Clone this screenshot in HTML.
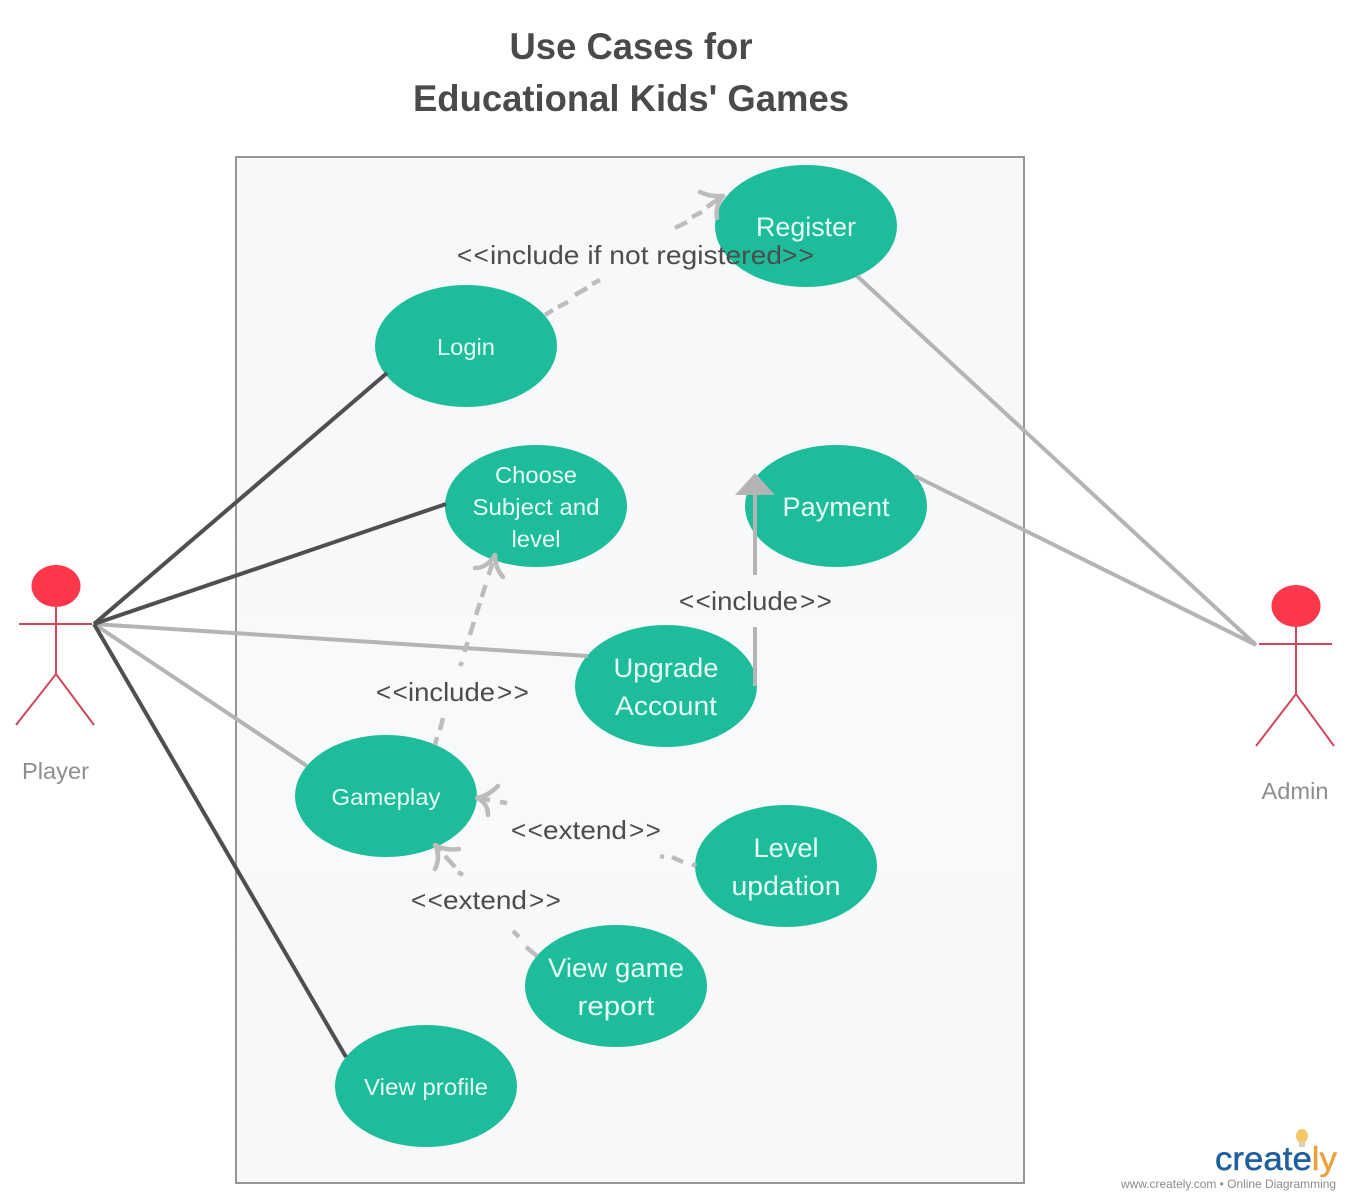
<!DOCTYPE html>
<html>
<head>
<meta charset="utf-8">
<style>
html,body{margin:0;padding:0;background:#fff;width:1350px;height:1200px;overflow:hidden}
svg{display:block}
text{font-family:"Liberation Sans",sans-serif}
.t{font-weight:bold;font-size:37px;fill:#4a4a4a;text-anchor:middle}
.w{fill:#e6fbf5;text-anchor:middle}
.l{fill:#4c4c4c;font-size:26px}
.s{letter-spacing:1.500px}
.a{fill:#8e8e8e;font-size:23px;text-anchor:middle}
.e{fill:#1dbc9a}
.d{stroke:#bcbcbc;stroke-width:4.500;fill:none}
.h{stroke:#bcbcbc;stroke-width:4.500;fill:none;stroke-linecap:round;stroke-linejoin:round}
</style>
</head>
<body>
<svg width="1350" height="1200" viewBox="0 0 1350 1200" xmlns="http://www.w3.org/2000/svg">
<defs>
<linearGradient id="bg" x1="0" y1="0" x2="0" y2="1">
<stop offset="0" stop-color="#f7f8f9"/>
<stop offset="0.6" stop-color="#f8f9fa"/>
<stop offset="1" stop-color="#f8f8f8"/>
</linearGradient>
</defs>
<rect width="1350" height="1200" fill="#fff"/>
<text class="t" x="631" y="59" textLength="243" lengthAdjust="spacingAndGlyphs">Use Cases for</text>
<text class="t" x="631" y="111" textLength="436" lengthAdjust="spacingAndGlyphs">Educational Kids' Games</text>

<rect x="236" y="157" width="788" height="1026" fill="url(#bg)" stroke="#969696" stroke-width="2"/>

<!-- Ellipses -->
<ellipse class="e" cx="806" cy="226" rx="91" ry="61"/>
<ellipse class="e" cx="466" cy="346" rx="91" ry="61"/>
<ellipse class="e" cx="536" cy="506" rx="91" ry="61"/>
<ellipse class="e" cx="836" cy="506" rx="91" ry="61"/>
<ellipse class="e" cx="666" cy="686" rx="91" ry="61"/>
<ellipse class="e" cx="386" cy="796" rx="91" ry="61"/>
<ellipse class="e" cx="786" cy="866" rx="91" ry="61"/>
<ellipse class="e" cx="616" cy="986" rx="91" ry="61"/>
<ellipse class="e" cx="426" cy="1086" rx="91" ry="61"/>

<!-- Actor connectors -->
<g fill="none" stroke-width="4">
<line x1="94" y1="624" x2="588" y2="656" stroke="#b4b4b4"/>
<line x1="94" y1="624" x2="307" y2="766" stroke="#b4b4b4"/>
<line x1="94" y1="624" x2="387" y2="373" stroke="#4f4f4f"/>
<line x1="94" y1="624" x2="446" y2="504" stroke="#4f4f4f"/>
<line x1="94" y1="624" x2="346" y2="1057" stroke="#4f4f4f"/>
<line x1="857" y1="276" x2="1256" y2="645" stroke="#b4b4b4"/>
<line x1="915" y1="476" x2="1256" y2="645" stroke="#b4b4b4"/>
</g>

<!-- Login to Register -->
<path class="d" d="M545 315L553 310M558 307L568 302M575 295L587 288M592 284L600 280M675 228L687 222M692 217L702 212M707 207L720 198"/>
<path class="h" d="M700 192 Q710 197 723 196 Q715 206 717 218"/>

<!-- Gameplay to Choose -->
<path class="d" d="M492.500 563L488.700 575M485.500 585L481.800 597M479.900 603L476 615M473.900 622L469.800 635M467.600 642L464.400 652M462 662L460 666M443 718L440 730M437 737L435 745"/>
<path class="h" d="M475 568 Q487 568 495 555 Q495 568 503 577"/>

<!-- Level to Gameplay -->
<path class="d" d="M479 798L490 800M500 802L507 803M660 856L664 857M672 857L683 862M692 864L696 866"/>
<path class="h" d="M498 786 Q488 796 477 798 Q488 803 488 815"/>

<!-- View game to Gameplay -->
<path class="d" d="M436 846L441 851M445 856L455 867M458 872L463 875M513 931L519 937M526 947L537 956"/>
<path class="h" d="M459 849 Q446 851 435 845 Q441 857 435 869"/>

<!-- Include arrow -->
<line x1="755" y1="686" x2="755" y2="627" stroke="#b4b4b4" stroke-width="4"/>
<line x1="755" y1="575" x2="755" y2="490" stroke="#b4b4b4" stroke-width="4"/>
<polygon points="755,473 735,495 775,495" fill="#b4b4b4"/>

<!-- Labels on ellipses -->
<text class="w" x="806" y="236" font-size="27" textLength="100" lengthAdjust="spacingAndGlyphs">Register</text>
<text class="w" x="466" y="355" font-size="23" textLength="58" lengthAdjust="spacingAndGlyphs">Login</text>
<text class="w" x="536" y="483" font-size="23" textLength="82" lengthAdjust="spacingAndGlyphs">Choose</text>
<text class="w" x="536" y="515" font-size="23" textLength="127" lengthAdjust="spacingAndGlyphs">Subject and</text>
<text class="w" x="536" y="547" font-size="23" textLength="49" lengthAdjust="spacingAndGlyphs">level</text>
<text class="w" x="836" y="516" font-size="27" textLength="107" lengthAdjust="spacingAndGlyphs">Payment</text>
<text class="w" x="666" y="677" font-size="27" textLength="105" lengthAdjust="spacingAndGlyphs">Upgrade</text>
<text class="w" x="666" y="715" font-size="27" textLength="102" lengthAdjust="spacingAndGlyphs">Account</text>
<text class="w" x="386" y="805" font-size="23" textLength="109" lengthAdjust="spacingAndGlyphs">Gameplay</text>
<text class="w" x="786" y="857" font-size="27" textLength="65" lengthAdjust="spacingAndGlyphs">Level</text>
<text class="w" x="786" y="895" font-size="27" textLength="109" lengthAdjust="spacingAndGlyphs">updation</text>
<text class="w" x="616" y="977" font-size="27" textLength="136" lengthAdjust="spacingAndGlyphs">View game</text>
<text class="w" x="616" y="1015" font-size="27" textLength="77" lengthAdjust="spacingAndGlyphs">report</text>
<text class="w" x="426" y="1095" font-size="23" textLength="124" lengthAdjust="spacingAndGlyphs">View profile</text>

<!-- Connector labels -->
<text class="l s" x="457" y="264">&lt;&lt;</text>
<text class="l" x="490" y="264" textLength="292" lengthAdjust="spacingAndGlyphs">include if not registered</text>
<text class="l s" x="782" y="264">&gt;&gt;</text>

<text class="l s" x="679" y="610">&lt;&lt;</text>
<text class="l" x="711" y="610" textLength="87" lengthAdjust="spacingAndGlyphs">include</text>
<text class="l s" x="800" y="610">&gt;&gt;</text>

<text class="l s" x="376" y="701">&lt;&lt;</text>
<text class="l" x="408" y="701" textLength="87" lengthAdjust="spacingAndGlyphs">include</text>
<text class="l s" x="497" y="701">&gt;&gt;</text>

<text class="l s" x="511" y="839">&lt;&lt;</text>
<text class="l" x="543" y="839" textLength="84" lengthAdjust="spacingAndGlyphs">extend</text>
<text class="l s" x="629" y="839">&gt;&gt;</text>

<text class="l s" x="411" y="909">&lt;&lt;</text>
<text class="l" x="443" y="909" textLength="84" lengthAdjust="spacingAndGlyphs">extend</text>
<text class="l s" x="529" y="909">&gt;&gt;</text>

<!-- Player -->
<ellipse cx="56" cy="586" rx="24.500" ry="21" fill="#fd374b"/>
<g stroke="#d2465c" stroke-width="2" fill="none">
<line x1="56" y1="607" x2="56" y2="674"/>
<line x1="19" y1="624" x2="92" y2="624"/>
<polyline points="16,725 56,674 94,725"/>
</g>
<text class="a" x="55.500" y="779" textLength="67" lengthAdjust="spacingAndGlyphs">Player</text>

<!-- Admin -->
<ellipse cx="1296" cy="606" rx="24.500" ry="21" fill="#fd374b"/>
<g stroke="#d2465c" stroke-width="2" fill="none">
<line x1="1296" y1="627" x2="1296" y2="694"/>
<line x1="1259" y1="644" x2="1332" y2="644"/>
<polyline points="1256,746 1296,694 1334,746"/>
</g>
<text class="a" x="1295" y="799" textLength="67" lengthAdjust="spacingAndGlyphs">Admin</text>

<!-- Logo -->
<ellipse cx="1302" cy="1136" rx="6" ry="7" fill="#f5c969"/>
<rect x="1299" y="1142" width="6" height="5" fill="#d9d2b8"/>
<text x="1215" y="1170" font-size="33" fill="#1f5f9c" stroke="#1f5f9c" stroke-width="0.500" textLength="122" lengthAdjust="spacingAndGlyphs">create<tspan fill="#e9a23b" stroke="#e9a23b">ly</tspan></text>
<text x="1121" y="1188" font-size="12" fill="#8a8a8a" textLength="215" lengthAdjust="spacingAndGlyphs">www.creately.com • Online Diagramming</text>
</svg>
</body>
</html>
